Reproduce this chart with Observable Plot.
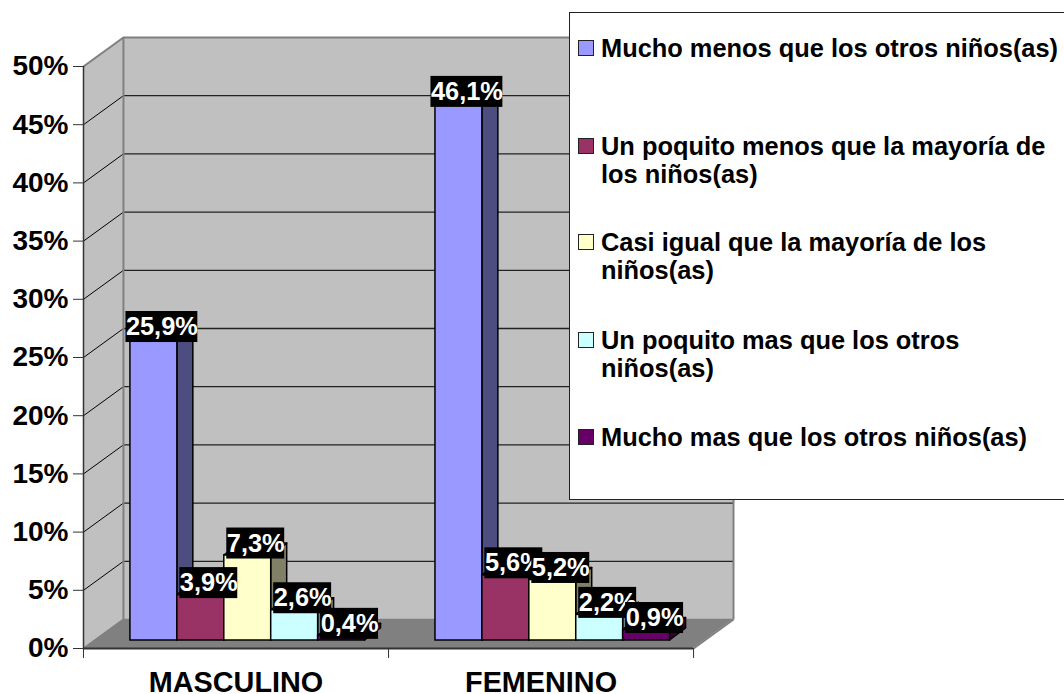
<!DOCTYPE html>
<html>
<head>
<meta charset="utf-8">
<script src="https://cdn.jsdelivr.net/npm/d3@7"></script>
<script src="https://cdn.jsdelivr.net/npm/@observablehq/plot@0.6"></script>
<style>
html,body{margin:0;padding:0;background:#fff;}
#wrap{position:relative;width:1064px;height:694px;overflow:hidden;font-family:"Liberation Sans",Arial,sans-serif;font-weight:bold;}
#wrap svg{display:block;position:absolute;left:0;top:0;}
#legend{position:absolute;left:569px;top:12px;width:500px;height:486px;background:#fff;border:1px solid #222;box-sizing:content-box;color:#000;font-size:25.4px;line-height:28px;}
.item{position:absolute;left:8px;width:462px;padding-left:23px;}
.sw{position:absolute;left:0;top:6px;width:14px;height:14px;border:1.5px solid #222;box-sizing:content-box;}
</style>
</head>
<body>
<div id="wrap"></div>
<script>
const categories = ["MASCULINO", "FEMENINO"];
const seriesNames = [
  "Mucho menos que los otros niños(as)",
  "Un poquito menos que la mayoría de los niños(as)",
  "Casi igual que la mayoría de los niños(as)",
  "Un poquito mas que los otros niños(as)",
  "Mucho mas que los otros niños(as)"
];
const masculino = [25.9, 3.9, 7.3, 2.6, 0.4];
const femenino = [46.1, 5.6, 5.2, 2.2, 0.9];
const faceColors = ["#9999FF", "#993366", "#FFFFCC", "#CCFFFF", "#660066"];
const sideColors = ["#4D4D80", "#4D1A33", "#808066", "#668080", "#330033"];
const yTicks = [0, 5, 10, 15, 20, 25, 30, 35, 40, 45, 50];
const legendBaselines = [57, 155, 251, 349, 446];

// projection of the pseudo-3D box, in scale units
const catPx = 305.5, pctPx = 582 / 50;
const wallDX = 40 / catPx, wallDY = 29 / pctPx;
const barW = 47 / catPx, barStart = 47 / catPx;
const barDX = 16 / catPx, barDY = 12 / pctPx, barBase = 8 / pctPx;
const maxY = 50;

const bars = [];
[masculino, femenino].forEach((vals, c) => vals.forEach((v, s) => {
  const x1 = c + barStart + s * barW;
  bars.push({c, s, v, x1, x2: x1 + barW, top: v + barBase, base: barBase, label: v.toFixed(1).replace(".", ",") + "%"});
}));

const gridTicks = yTicks.filter(t => t > 0 && t < maxY);
const barMarks = bars.flatMap(b => [
  Plot.areaY([{x: b.x2, y1: b.base, y2: b.top}, {x: b.x2 + barDX, y1: b.base + barDY, y2: b.top + barDY}],
    {x: "x", y1: "y1", y2: "y2", fill: sideColors[b.s], stroke: "#000", strokeWidth: 1.5}),
  Plot.areaX([{y: b.top, x1: b.x1, x2: b.x2}, {y: b.top + barDY, x1: b.x1 + barDX, x2: b.x2 + barDX}],
    {y: "y", x1: "x1", x2: "x2", fill: faceColors[b.s], stroke: "#000", strokeWidth: 1.5}),
  Plot.rect([b], {x1: "x1", x2: "x2", y1: "base", y2: "top", fill: faceColors[b.s], stroke: "#000", strokeWidth: 1.5})
]);
const labelMarks = bars.flatMap(b => {
  const cx = b.x1 + (barW + barDX) / 2, cy = b.top + barDY;
  const hw = (b.label.length === 5 ? 36 : 29) / catPx, hh = 15.5 / pctPx;
  return [
    Plot.rect([b], {x1: () => cx - hw, x2: () => cx + hw, y1: () => cy - hh, y2: () => cy + hh, fill: "#000"}),
    Plot.text([b], {x: () => cx, y: () => cy, text: "label", fill: "#fff", fontSize: 25.4, fontWeight: "bold"})
  ];
});

const chart = Plot.plot({
  width: 1064, height: 694,
  marginLeft: 83, marginRight: 331, marginTop: 66, marginBottom: 46,
  style: {background: "transparent", fontFamily: '"Liberation Sans",Arial,sans-serif', color: "#000", overflow: "visible"},
  x: {type: "linear", domain: [0, 2 + wallDX], label: null, axis: null},
  y: {type: "linear", domain: [0, maxY], label: null, axis: null},
  marks: [
    // left wall
    Plot.areaY([{x: 0, y1: 0, y2: maxY}, {x: wallDX, y1: wallDY, y2: maxY + wallDY}],
      {x: "x", y1: "y1", y2: "y2", fill: "#C0C0C0"}),
    // back wall
    Plot.rect([0], {x1: () => wallDX, x2: () => 2 + wallDX, y1: () => wallDY, y2: () => maxY + wallDY, fill: "#C0C0C0"}),
    // floor
    Plot.areaX([{y: 0, x1: 0, x2: 2}, {y: wallDY, x1: wallDX, x2: 2 + wallDX}],
      {y: "y", x1: "x1", x2: "x2", fill: "#808080"}),
    // gridlines
    Plot.link(gridTicks, {x1: () => 0, x2: () => wallDX, y1: d => d, y2: d => d + wallDY, stroke: "#000", strokeWidth: 1}),
    Plot.ruleY(gridTicks, {x1: () => wallDX, x2: () => 2 + wallDX, y: d => d + wallDY, stroke: "#222", strokeWidth: 1.3}),
    // wall edges
    Plot.link([0], {x1: () => wallDX, x2: () => wallDX, y1: () => wallDY, y2: () => maxY + wallDY, stroke: "#808080", strokeWidth: 2}),
    Plot.ruleY([0], {x1: () => wallDX, x2: () => 2 + wallDX, y: () => maxY + wallDY, stroke: "#808080", strokeWidth: 2}),
    Plot.link([0], {x1: () => 2 + wallDX, x2: () => 2 + wallDX, y1: () => wallDY, y2: () => maxY + wallDY, stroke: "#808080", strokeWidth: 2}),
    Plot.link([0], {x1: () => 0, x2: () => wallDX, y1: () => maxY, y2: () => maxY + wallDY, stroke: "#808080", strokeWidth: 2}),
    Plot.link([0], {x1: () => 0, x2: () => wallDX, y1: () => 0, y2: () => wallDY, stroke: "#808080", strokeWidth: 2}),
    Plot.link([0], {x1: () => 2, x2: () => 2 + wallDX, y1: () => 0, y2: () => wallDY, stroke: "#808080", strokeWidth: 2}),
    Plot.ruleY([0], {x1: () => wallDX, x2: () => 2 + wallDX, y: () => wallDY, stroke: "#808080", strokeWidth: 1.5}),
    // axis lines
    Plot.ruleX([0], {y1: 0, y2: maxY, stroke: "#333", strokeWidth: 1.5}),
    Plot.ruleY([0], {x1: 0, x2: 2, stroke: "#333", strokeWidth: 2}),
    Plot.axisY({ticks: yTicks, tickSize: 10, tickPadding: 5, tickFormat: d => d + "%", fontSize: 28, fontWeight: "bold", stroke: "#333", anchor: "left", label: null}),
    Plot.axisX({ticks: [0, 1, 2], tickSize: 10, tickFormat: () => "", stroke: "#333", anchor: "bottom", label: null}),
    Plot.axisX({ticks: [0.5, 1.5], tickSize: 0, tickPadding: 23, tickFormat: d => categories[Math.floor(d)], fontSize: 28.8, fontWeight: "bold", anchor: "bottom", label: null}),
    ...barMarks,
    ...labelMarks
  ]
});
const wrap = document.getElementById("wrap");
wrap.appendChild(chart);
const legend = document.createElement("div");
legend.id = "legend";
seriesNames.forEach((name, i) => {
  const item = document.createElement("div");
  item.className = "item";
  item.style.top = (legendBaselines[i] - 23 - 13) + "px";
  const sw = document.createElement("span");
  sw.className = "sw";
  sw.style.background = faceColors[i];
  item.appendChild(sw);
  item.appendChild(document.createTextNode(name));
  legend.appendChild(item);
});
wrap.appendChild(legend);
</script>
</body>
</html>
